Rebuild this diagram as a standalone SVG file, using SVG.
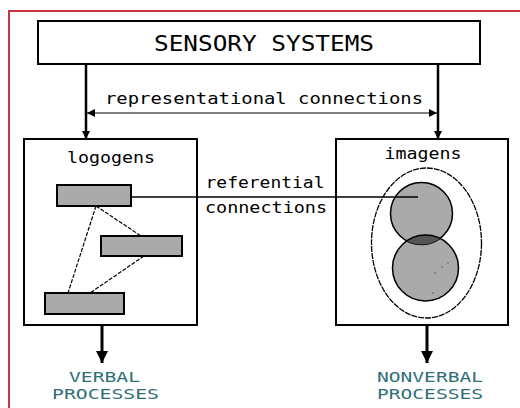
<svg xmlns="http://www.w3.org/2000/svg" width="520" height="408" viewBox="0 0 520 408">
<defs>
<style>
.box{fill:#fff;stroke:#000;stroke-width:2}
.bar{fill:#aaa;stroke:#000;stroke-width:2}
.dash{stroke:#000;stroke-width:1.2;stroke-dasharray:4 1.5;fill:none}
.t{font-family:"DejaVu Sans Mono","Liberation Mono",monospace;fill:#000}
.out{font-family:"DejaVu Sans Mono","Liberation Mono",monospace;fill:#2f7078;font-size:14.5px}
</style>
<marker id="sa" viewBox="0 0 10 10" refX="10" refY="5" markerWidth="8" markerHeight="8" markerUnits="userSpaceOnUse" orient="auto"><path d="M0,0 L10,5 L0,10 z" fill="#000"/></marker>
<marker id="sb" viewBox="0 0 10 10" refX="0" refY="5" markerWidth="8" markerHeight="8" markerUnits="userSpaceOnUse" orient="auto"><path d="M10,0 L0,5 L10,10 z" fill="#000"/></marker>
<marker id="ba" viewBox="0 0 10 10" refX="10" refY="5" markerWidth="12" markerHeight="22" markerUnits="userSpaceOnUse" orient="auto"><path d="M0,0 L10,5 L0,10 z" fill="#000"/></marker>
</defs>
<rect width="520" height="408" fill="#fff"/>
<path d="M9,408 V11 H520" fill="none" stroke="#c8353a" stroke-width="2"/>
<g id="sensory">
<rect class="box" x="38" y="21" width="442" height="43"/>
<text class="t" x="264" y="51" font-size="22" text-anchor="middle" textLength="220" lengthAdjust="spacingAndGlyphs">SENSORY SYSTEMS</text>
</g>
<g id="connectors">
<line x1="86" y1="64" x2="86" y2="139" stroke="#000" stroke-width="2.5" marker-end="url(#sa)"/>
<line x1="438" y1="64" x2="438" y2="139" stroke="#000" stroke-width="2.5" marker-end="url(#sa)"/>
<line x1="87" y1="113" x2="437" y2="113" stroke="#000" stroke-width="1.2" marker-start="url(#sb)" marker-end="url(#sa)"/>
<text class="t" x="264" y="104" font-size="16" text-anchor="middle" textLength="318" lengthAdjust="spacingAndGlyphs">representational connections</text>
<line x1="102" y1="325" x2="102" y2="363" stroke="#000" stroke-width="3" marker-end="url(#ba)"/>
<line x1="427" y1="325" x2="427" y2="363" stroke="#000" stroke-width="3" marker-end="url(#ba)"/>
</g>
<g id="logogens">
<rect class="box" x="24" y="139" width="173" height="186"/>
<text class="t" x="111" y="163" font-size="16" text-anchor="middle" textLength="88" lengthAdjust="spacingAndGlyphs">logogens</text>
<line class="dash" x1="96" y1="206" x2="68" y2="293"/>
<line class="dash" x1="96" y1="206" x2="141" y2="236"/>
<line class="dash" x1="144" y1="256" x2="90" y2="293"/>
<rect class="bar" x="57" y="185" width="74" height="21"/>
<rect class="bar" x="101" y="236" width="81" height="20"/>
<rect class="bar" x="45" y="293" width="79" height="21"/>
</g>
<g id="imagens">
<rect class="box" x="336" y="139" width="172" height="186"/>
<text class="t" x="423" y="159" font-size="16" text-anchor="middle" textLength="77" lengthAdjust="spacingAndGlyphs">imagens</text>
<ellipse cx="426.5" cy="243" rx="55" ry="75" fill="none" stroke="#000" stroke-width="1.3" stroke-dasharray="6 1"/>
<clipPath id="cu"><circle cx="421.5" cy="213.5" r="31"/></clipPath>
<circle cx="425.5" cy="268" r="33" fill="#aaa" stroke="#000" stroke-width="1.5"/>
<circle cx="421.5" cy="213.5" r="31" fill="#aaa" stroke="#000" stroke-width="1.5"/>
<circle cx="425.5" cy="268" r="33" fill="#555" stroke="#000" stroke-width="1.5" clip-path="url(#cu)"/>
<g fill="#777"><circle cx="448" cy="263" r="0.9"/><circle cx="442" cy="267" r="0.9"/><circle cx="435" cy="273" r="0.9"/><circle cx="433" cy="293" r="0.9"/></g>
</g>
<g id="referential">
<line x1="131" y1="197" x2="418" y2="197" stroke="#000" stroke-width="1.5"/>
<text class="t" x="265" y="188" font-size="16" text-anchor="middle" textLength="119" lengthAdjust="spacingAndGlyphs">referential</text>
<text class="t" x="266" y="213" font-size="16" text-anchor="middle" textLength="122" lengthAdjust="spacingAndGlyphs">connections</text>
</g>
<g id="verbal">
<text class="out" x="104.5" y="382" text-anchor="middle" textLength="71" lengthAdjust="spacingAndGlyphs">VERBAL</text>
<text class="out" x="105.5" y="399" text-anchor="middle" textLength="107" lengthAdjust="spacingAndGlyphs">PROCESSES</text>
</g>
<g id="nonverbal">
<text class="out" x="430" y="382" text-anchor="middle" textLength="106" lengthAdjust="spacingAndGlyphs">NONVERBAL</text>
<text class="out" x="430" y="399" text-anchor="middle" textLength="106" lengthAdjust="spacingAndGlyphs">PROCESSES</text>
</g>
</svg>
